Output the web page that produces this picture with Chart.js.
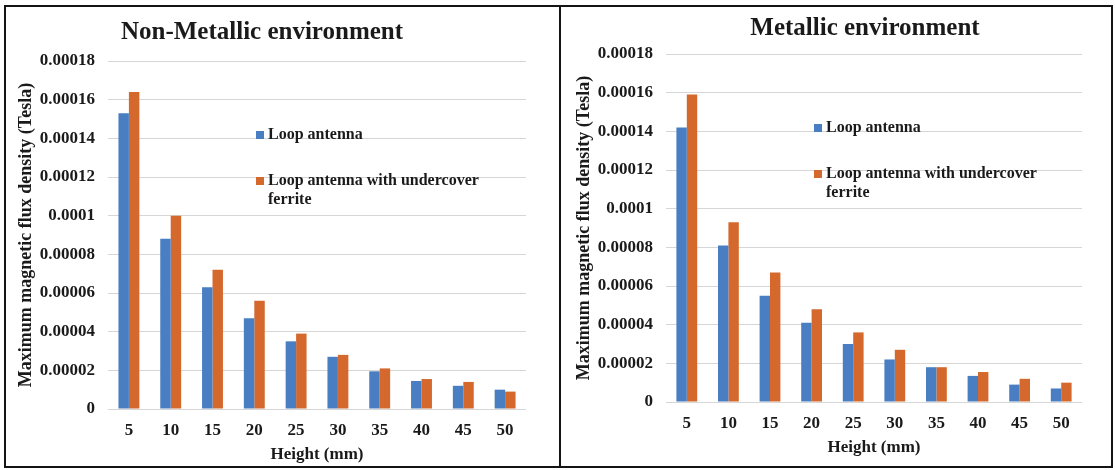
<!DOCTYPE html>
<html>
<head>
<meta charset="utf-8">
<script src="https://cdn.jsdelivr.net/npm/chart.js@4.4.1/dist/chart.umd.min.js"></script>
<style>
  html, body { margin: 0; padding: 0; background: #fff; }
  body { width: 1115px; height: 470px; position: relative; overflow: hidden; }
  .frame { position: absolute; left: 4px; top: 5px; width: 1105px; height: 459px; border: 2px solid #141414; }
  .divider { position: absolute; left: 559px; top: 5px; width: 2px; height: 463px; background: #141414; }
  canvas { position: absolute; top: 7px; }
  #nonMetallic { left: 6px; }
  #metallic { left: 561px; }
</style>
</head>
<body>
<div class="frame"></div>
<div class="divider"></div>
<canvas id="nonMetallic" width="553" height="459"></canvas>
<canvas id="metallic" width="550" height="459"></canvas>
<script>
// Sensor height above the antenna (mm)
const heights = ['5', '10', '15', '20', '25', '30', '35', '40', '45', '50'];

// Maximum magnetic flux density (T), non-metallic surroundings
const nonMetallicLoop    = [0.000153, 0.000088, 0.000063, 0.000047, 0.000035, 0.000027, 0.0000195, 0.0000145, 0.000012, 0.000010];
const nonMetallicFerrite = [0.000164, 0.000100, 0.000072, 0.000056, 0.000039, 0.000028, 0.000021, 0.0000155, 0.000014, 0.000009];

// Maximum magnetic flux density (T), metallic surroundings
const metallicLoop    = [0.000142, 0.000081, 0.000055, 0.000041, 0.000030, 0.000022, 0.000018, 0.0000135, 0.000009, 0.000007];
const metallicFerrite = [0.000159, 0.000093, 0.000067, 0.000048, 0.000036, 0.000027, 0.000018, 0.0000155, 0.000012, 0.000010];

const seriesNames = ['Loop antenna', 'Loop antenna with undercover ferrite'];
const legendLines = [['Loop antenna'], ['Loop antenna with undercover', 'ferrite']];

const yMax = 0.00018;
const yStep = 0.00002;
const yTickLabels = ['0', '0.00002', '0.00004', '0.00006', '0.00008', '0.0001', '0.00012', '0.00014', '0.00016', '0.00018'];

const BLUE = '#4a7ec2';
const ORANGE = '#d5692d';
const INK = '#1a1a1a';
const SERIF = "'Liberation Serif', 'Times New Roman', serif";

// Panel heading drawn at a fixed spot above the plot
const panelTitle = {
  id: 'panelTitle',
  afterDraw(chart, args, opts) {
    const ctx = chart.ctx;
    ctx.save();
    ctx.font = `bold ${opts.size}px ${SERIF}`;
    ctx.fillStyle = INK;
    ctx.textAlign = 'center';
    ctx.textBaseline = 'middle';
    ctx.fillText(opts.text, opts.x, opts.y);
    ctx.restore();
  }
};

// Series key placed inside the plot area
const insideLegend = {
  id: 'insideLegend',
  afterDatasetsDraw(chart, args, opts) {
    const ctx = chart.ctx;
    const area = chart.chartArea;
    ctx.save();
    ctx.font = `bold 16px ${SERIF}`;
    ctx.textBaseline = 'middle';
    ctx.textAlign = 'left';
    chart.data.datasets.forEach((ds, i) => {
      const x = area.left + opts.dx;
      const y = area.top + opts.rows[i];
      ctx.fillStyle = ds.backgroundColor;
      ctx.fillRect(x, y - 4, 8, 8);
      ctx.fillStyle = INK;
      legendLines[i].forEach((line, k) => {
        ctx.fillText(line, x + 12, y + k * 19);
      });
    });
    ctx.restore();
  }
};

function buildChart(id, o) {
  const tickFont = { family: SERIF, size: 17, weight: 'bold' };
  return new Chart(document.getElementById(id), {
    type: 'bar',
    data: {
      labels: heights,
      datasets: [
        { label: seriesNames[0], data: o.loop, backgroundColor: BLUE, categoryPercentage: 0.5, barPercentage: 1 },
        { label: seriesNames[1], data: o.ferrite, backgroundColor: ORANGE, categoryPercentage: 0.5, barPercentage: 1 }
      ]
    },
    options: {
      responsive: false,
      animation: false,
      devicePixelRatio: 1,
      layout: { padding: o.pad },
      plugins: {
        legend: { display: false },
        tooltip: { enabled: false },
        title: { display: false },
        panelTitle: o.title,
        insideLegend: { dx: 148, rows: [74, 120] }
      },
      scales: {
        x: {
          grid: { display: false, drawTicks: false },
          border: { display: false },
          ticks: { font: tickFont, color: INK, padding: 11 },
          title: { display: true, text: 'Height (mm)', font: { family: SERIF, size: 17, weight: 'bold' }, color: INK, padding: { top: 0, bottom: 0 } },
          afterFit(scale) { scale.height = 56; }
        },
        y: {
          min: 0,
          max: yMax,
          ticks: {
            stepSize: yStep,
            font: tickFont,
            color: INK,
            padding: 13,
            callback: v => yTickLabels[Math.round(v / yStep)]
          },
          grid: { color: '#d6d6d6', drawTicks: false, lineWidth: 1 },
          border: { display: false },
          title: { display: true, text: 'Maximum magnetic flux density (Tesla)', font: { family: SERIF, size: 18, weight: 'bold' }, color: INK, padding: { top: 0, bottom: 0 } },
          afterFit(scale) { scale.width = o.yWidth; }
        }
      }
    },
    plugins: [panelTitle, insideLegend]
  });
}

buildChart('nonMetallic', {
  loop: nonMetallicLoop,
  ferrite: nonMetallicFerrite,
  pad: { left: 10, right: 33, top: 54, bottom: 1 },
  yWidth: 92,
  title: { text: 'Non-Metallic environment', x: 256, y: 26, size: 25 }
});

buildChart('metallic', {
  loop: metallicLoop,
  ferrite: metallicFerrite,
  pad: { left: 13, right: 29, top: 47, bottom: 8 },
  yWidth: 92,
  title: { text: 'Metallic environment', x: 304, y: 22, size: 25 }
});
</script>
</body>
</html>
